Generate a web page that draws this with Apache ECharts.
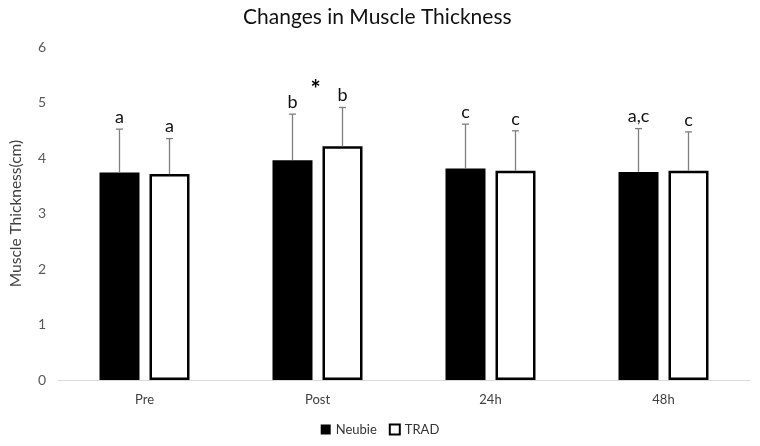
<!DOCTYPE html>
<html><head><meta charset="utf-8">
<script src="https://cdn.jsdelivr.net/npm/echarts@6/dist/echarts.min.js"></script>
<style>html,body{margin:0;padding:0;background:#fff}#c{width:760px;height:446px}</style>
</head><body><div id="c"></div>
<script>
const categories = ['Pre', 'Post', '24h', '48h'];
const neubie = [3.74, 3.96, 3.81, 3.75];
const neubieErr = [0.78, 0.83, 0.80, 0.78];
const trad = [3.71, 4.21, 3.77, 3.77];
const tradErr = [0.64, 0.70, 0.72, 0.70];
const neubieLetters = ['a', 'b', 'c', 'a,c'];
const tradLetters = ['a', 'b', 'c', 'c'];
const stars = ['', '*', '', ''];
const yTicks = [0, 1, 2, 3, 4, 5, 6];

const FONT = 'Lato, "Open Sans", sans-serif';
const BAR_W = 40, HALF = 25;

function errSeries(vals, errs, letters, offset) {
  return {
    type: 'custom',
    silent: true,
    z: 5,
    data: vals.map((v, i) => [i, v, v + errs[i]]),
    renderItem: function (params, api) {
      const i = api.value(0);
      const base = api.coord([i, api.value(1)]);
      const top = api.coord([i, api.value(2)]);
      const x = base[0] + offset;
      return {
        type: 'group',
        children: [
          { type: 'line', shape: { x1: x, y1: base[1], x2: x, y2: top[1] }, style: { stroke: '#7f7f7f', lineWidth: 1.3 } },
          { type: 'line', shape: { x1: x - 3.5, y1: top[1], x2: x + 3.5, y2: top[1] }, style: { stroke: '#7f7f7f', lineWidth: 1.3 } },
          { type: 'text', style: { x: x, y: top[1] - 3, text: letters[i], textAlign: 'center', textVerticalAlign: 'bottom', fill: '#111', font: '18px ' + FONT } }
        ]
      };
    }
  };
}

const chart = echarts.init(document.getElementById('c'));
chart.setOption({
  backgroundColor: '#fff',
  animation: false,
  title: {
    text: 'Changes in Muscle Thickness', left: 238, top: 2,
    textStyle: { fontFamily: FONT, fontSize: 21, fontWeight: 'normal', color: '#111' }
  },
  legend: {
    bottom: 5, left: 'center', itemWidth: 10, itemHeight: 10, itemGap: 12,
    textStyle: { fontFamily: FONT, fontSize: 13, color: '#333' },
    data: [
      { name: 'Neubie', icon: 'rect', itemStyle: { color: '#000', borderColor: '#000', borderWidth: 0 } },
      { name: 'TRAD', icon: 'rect', itemStyle: { color: '#fff', borderColor: '#000', borderWidth: 2 } }
    ]
  },
  grid: { left: 50, right: 10, top: 47, bottom: 66 },
  xAxis: {
    type: 'category', data: categories,
    axisLine: { lineStyle: { color: '#d9d9d9', width: 1 } },
    axisTick: { show: false },
    axisLabel: { fontFamily: FONT, fontSize: 13, color: '#404040', margin: 13 }
  },
  yAxis: {
    type: 'value', min: 0, max: 6, interval: 1,
    name: 'Muscle Thickness(cm)', nameLocation: 'middle', nameGap: 34, nameRotate: 90,
    nameTextStyle: { fontFamily: FONT, fontSize: 15.5, color: '#404040' },
    axisLine: { show: false }, axisTick: { show: false }, splitLine: { show: false },
    axisLabel: {
      fontFamily: FONT, fontSize: 14, color: '#595959', margin: 12,
      formatter: v => yTicks.includes(v) ? String(v) : ''
    }
  },
  series: [
    { name: 'Neubie', type: 'bar', data: neubie, barWidth: BAR_W, barGap: '25%',
      itemStyle: { color: '#000', borderColor: '#000', borderWidth: 0 } },
    { name: 'TRAD', type: 'bar', data: trad, barWidth: BAR_W,
      itemStyle: { color: '#fff', borderColor: '#000', borderWidth: 2.5 } },
    errSeries(neubie, neubieErr, neubieLetters, -HALF),
    errSeries(trad, tradErr, tradLetters, HALF),
    {
      type: 'custom', silent: true, z: 6,
      data: trad.map((v, i) => [i, v + tradErr[i]]),
      renderItem: function (params, api) {
        const i = api.value(0);
        if (!stars[i]) return null;
        const p = api.coord([i, api.value(1)]);
        return { type: 'text', style: { x: p[0] - 2, y: p[1] - 17, text: stars[i], textAlign: 'center', textVerticalAlign: 'middle', fill: '#000', font: 'bold 24px ' + FONT } };
      }
    }
  ]
});
</script></body></html>
